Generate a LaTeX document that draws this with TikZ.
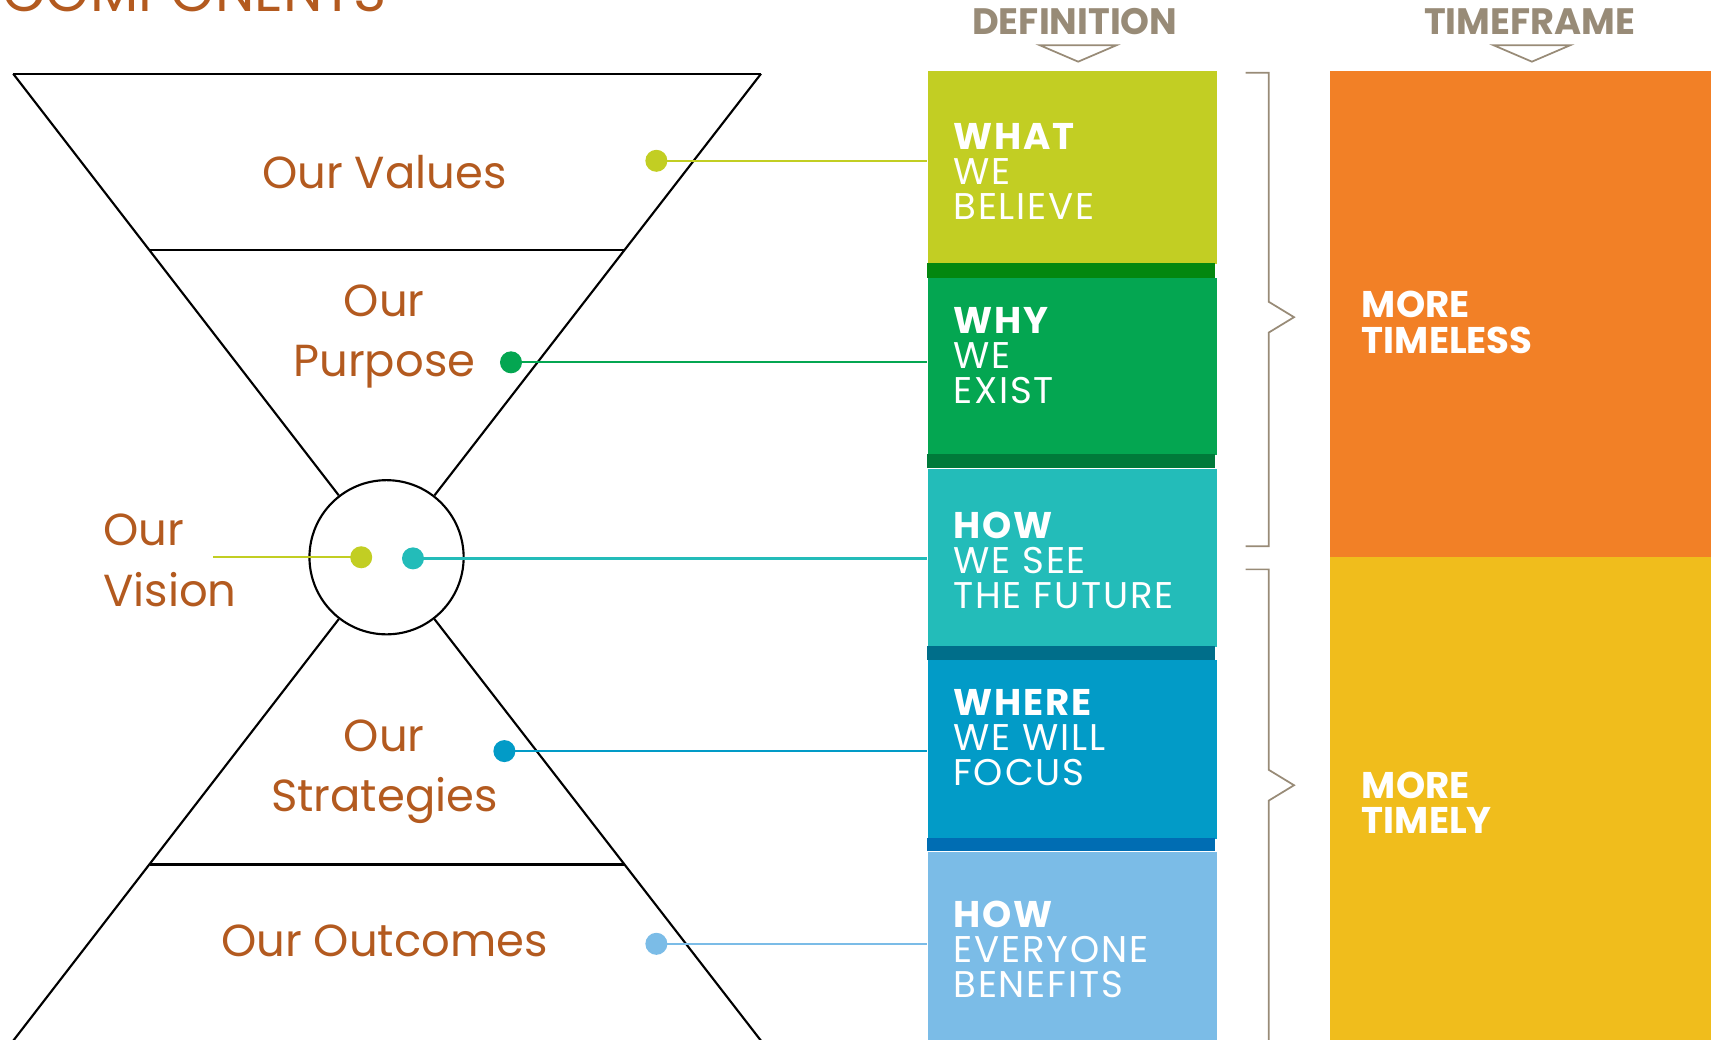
\documentclass[tikz,border=0pt]{standalone}
\usepackage{fontspec}
\setmainfont{Poppins}
\usetikzlibrary{positioning}
\definecolor{ourbrown}{HTML}{B35A1F}
\definecolor{framegray}{HTML}{988B77}
\definecolor{valuecol}{HTML}{C2CE23}
\definecolor{purposecol}{HTML}{04A651}
\definecolor{visioncol}{HTML}{23BCB9}
\definecolor{strategycol}{HTML}{029BC7}
\definecolor{outcomecol}{HTML}{7BBCE7}
\definecolor{bandone}{HTML}{03870F}
\definecolor{bandtwo}{HTML}{007A3A}
\definecolor{bandthree}{HTML}{006E8A}
\definecolor{bandfour}{HTML}{006DB3}
\definecolor{timeless}{HTML}{F28026}
\definecolor{timely}{HTML}{F0BD1C}

\begin{document}
\begin{tikzpicture}[x=1cm, y=-1cm,
		ourlabel/.style={text=ourbrown, font=\fontsize{11.6}{15.6}\selectfont, align=center, inner sep=0pt},
		deftext/.style={text=white, font=\fontsize{9.6}{9.05}\selectfont\addfontfeature{LetterSpace=5}, align=left, inner sep=0pt, anchor=north west},
		block/.style={minimum width=2.62cm, inner sep=0pt, anchor=north west},
		dot/.style={circle, inner sep=0pt, minimum size=0.2cm},
		link/.style={line width=0.6pt},
		funnel/.style={black, line width=0.55pt},
		brace/.style={framegray, line width=0.45pt},
		header/.style={text=framegray, font=\fontsize{9.5}{10}\selectfont\bfseries}]
	\useasboundingbox (0,0) rectangle (15.6,9.44);
	\node [text=ourbrown, font=\fontsize{14.5}{16}\selectfont, anchor=base west] at (-0.10,0.10) {COMPONENTS};

	\node [funnel, draw, circle, minimum size=1.40cm, inner sep=0pt] (hub) at (3.51,5.06) {};
	\coordinate (tl) at (0.12,0.67);
	\coordinate (tr) at (6.91,0.67);
	\coordinate (bl) at (0.12,9.45);
	\coordinate (br) at (6.91,9.45);
	\draw [funnel] (tl) -- (tr);
	\draw [funnel] (tl) -- (hub);
	\draw [funnel] (tr) -- (hub);
	\draw [funnel] (bl) -- (hub);
	\draw [funnel] (br) -- (hub);
	\draw [funnel] (1.36,2.27) -- (5.67,2.27);
	\draw [funnel] (1.36,7.85) -- (5.67,7.85);

	\node [ourlabel, anchor=north] at (3.49,1.40) {Our Values};
	\node [ourlabel, anchor=north] at (3.49,2.58) {Our\\Purpose};
	\node [ourlabel, anchor=north west, align=left] at (0.93,4.66) {Our\\Vision};
	\node [ourlabel, anchor=north] at (3.49,6.53) {Our\\Strategies};
	\node [ourlabel, anchor=north] at (3.49,8.39) {Our Outcomes};

	\node [header] at (9.76,0.20) {DEFINITION};
	\node [header] at (13.89,0.20) {TIMEFRAME};
	\draw [brace] (9.44,0.41) -- (10.14,0.41) -- (9.79,0.56) -- cycle;
	\draw [brace] (13.56,0.41) -- (14.26,0.41) -- (13.91,0.56) -- cycle;

	\node [block, fill=valuecol, minimum height=1.75cm] (what) at (8.42,0.64) {};
	\fill [bandone] (8.42,2.39) rectangle (11.03,2.52);
	\node [block, fill=purposecol, minimum height=1.60cm] (why) at (8.42,2.52) {};
	\fill [bandtwo] (8.42,4.12) rectangle (11.03,4.25);
	\node [block, fill=visioncol, minimum height=1.62cm] (see) at (8.42,4.25) {};
	\fill [bandthree] (8.42,5.87) rectangle (11.03,5.99);
	\node [block, fill=strategycol, minimum height=1.62cm] (focus) at (8.42,5.99) {};
	\fill [bandfour] (8.42,7.61) rectangle (11.03,7.73);
	\node [block, fill=outcomecol, minimum height=1.77cm] (benefit) at (8.42,7.73) {};

	\node [deftext] at (8.65,1.11) {\textbf{WHAT}\\WE\\BELIEVE};
	\node [deftext] at (8.65,2.78) {\textbf{WHY}\\WE\\EXIST};
	\node [deftext] at (8.65,4.64) {\textbf{HOW}\\WE SEE\\THE FUTURE};
	\node [deftext] at (8.65,6.25) {\textbf{WHERE}\\WE WILL\\FOCUS};
	\node [deftext] at (8.65,8.17) {\textbf{HOW}\\EVERYONE\\BENEFITS};

	\node [dot, fill=valuecol] (dvalue) at (5.96,1.46) {};
	\node [dot, fill=purposecol] (dpurpose) at (4.64,3.29) {};
	\node [dot, fill=valuecol] (dvision) at (3.28,5.06) {};
	\node [dot, fill=visioncol] (dsee) at (3.75,5.07) {};
	\node [dot, fill=strategycol] (dstrategy) at (4.58,6.82) {};
	\node [dot, fill=outcomecol] (doutcome) at (5.96,8.57) {};
	\coordinate (vend) at (1.93,5.06);

	\draw [link, valuecol] (dvalue.center) -- (dvalue -| what.west);
	\draw [link, purposecol] (dpurpose.center) -- (dpurpose -| why.west);
	\draw [link, valuecol] (dvision.center) -- (vend);
	\draw [link, visioncol] (dsee.center) -- (dsee -| see.west);
	\draw [link, strategycol] (dstrategy.center) -- (dstrategy -| focus.west);
	\draw [link, outcomecol] (doutcome.center) -- (doutcome -| benefit.west);

	\draw [brace] (11.31,0.66) -- (11.52,0.66) -- (11.52,2.74) -- (11.75,2.88) -- (11.52,3.02) -- (11.52,4.96) -- (11.31,4.96);
	\draw [brace] (11.31,5.17) -- (11.52,5.17) -- (11.52,6.99) -- (11.75,7.13) -- (11.52,7.27) -- (11.52,9.50);

	\node [minimum width=3.46cm, minimum height=4.41cm, inner sep=0pt, anchor=north west, fill=timeless] (old) at (12.07,0.64) {};
	\node [minimum width=3.46cm, minimum height=4.45cm, inner sep=0pt, anchor=north west, fill=timely] (new) at (12.07,5.05) {};
	\node [deftext, font=\fontsize{9.6}{9.05}\selectfont\bfseries] at (12.36,2.64) {MORE\\TIMELESS};
	\node [deftext, font=\fontsize{9.6}{9.05}\selectfont\bfseries] at (12.36,7.00) {MORE\\TIMELY};
\end{tikzpicture}
\end{document}
